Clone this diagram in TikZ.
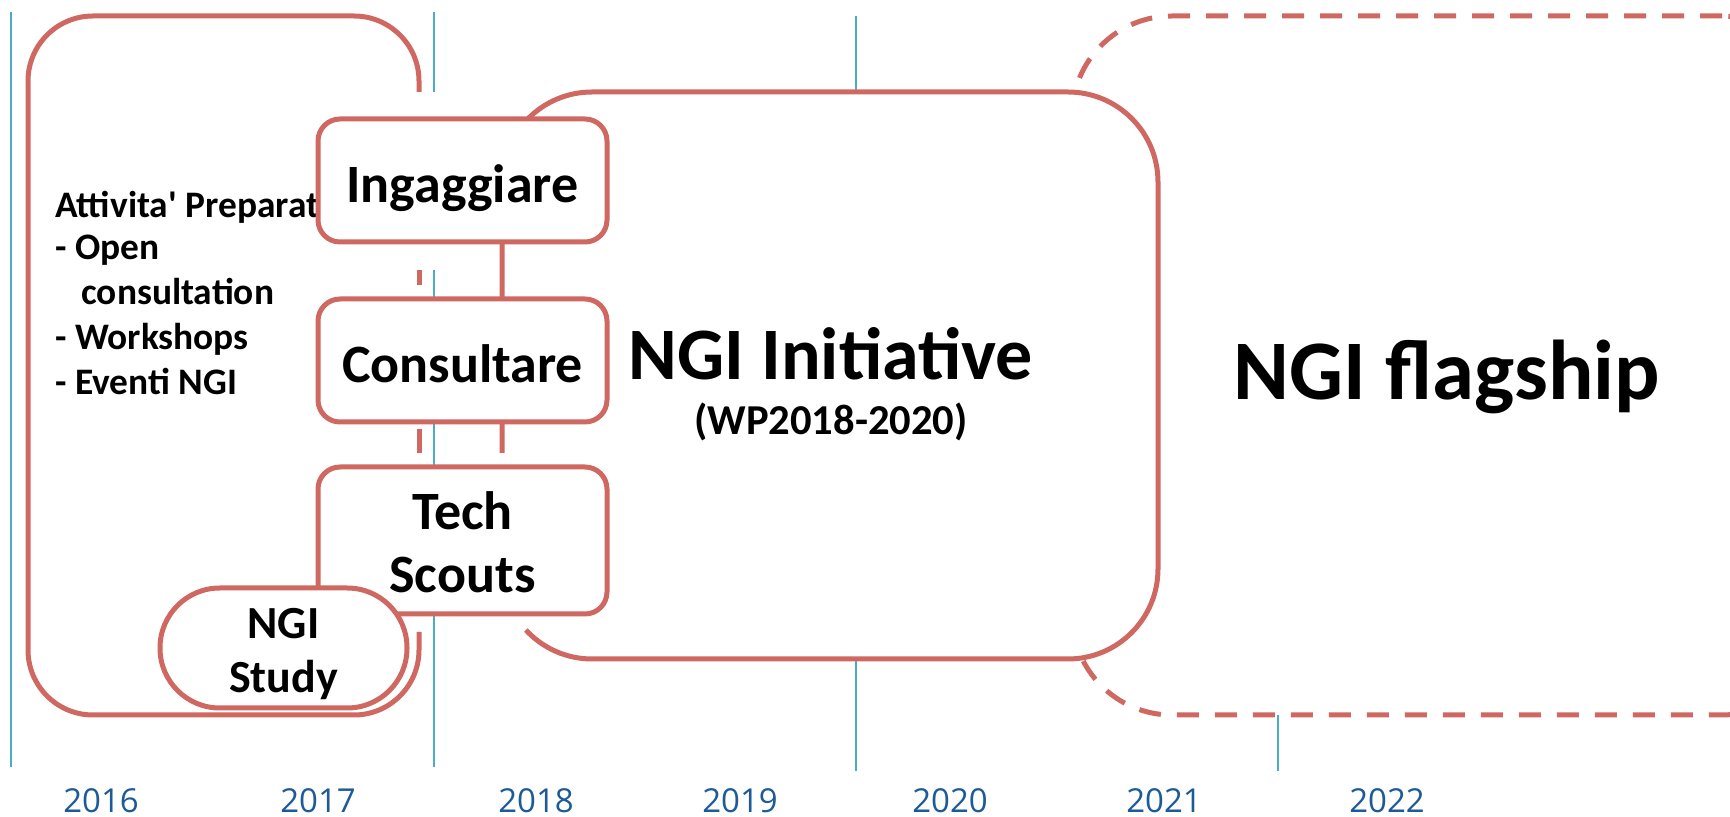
\documentclass[tikz,border=0pt]{standalone}
\usepackage{fontspec}
\setmainfont{Carlito}
\newfontfamily\yearfont{Open Sans}
\definecolor{boxred}{RGB}{208,104,98}
\definecolor{gridblue}{RGB}{75,172,198}
\definecolor{yearblue}{RGB}{28,90,152}
\begin{document}
\begin{tikzpicture}[x=0.5pt,y=-0.5pt,
  redline/.style={draw=boxred,line width=2.5pt},
  gridline/.style={draw=gridblue,line width=1pt},
  stagebox/.style={redline,fill=white,rounded corners=11pt,minimum width=144.5pt,inner sep=0pt,outer sep=0pt,align=center,font=\bfseries\fontsize{27pt}{31.5pt}\selectfont},
  yearlbl/.style={anchor=base,inner sep=0pt,text=yearblue,font=\yearfont\fontsize{16.5pt}{20pt}\selectfont},
  preptext/.style={anchor=base west,inner sep=0pt,font=\bfseries\fontsize{18.7pt}{22pt}\selectfont},
]
\useasboundingbox (0,0) rectangle (1730,817);
\clip (0,0) rectangle (1730,817);

% year grid lines
\draw[gridline] (11,12) -- (11,767);
\draw[gridline] (434,12) -- (434,92);
\draw[gridline] (434,270) -- (434,767);
\draw[gridline] (856,16) -- (856,771);
\draw[gridline] (1278,16) -- (1278,771);

% NGI flagship (dashed)
\node[redline,dash pattern=on 11pt off 8pt,fill=white,rounded corners=50pt,minimum width=375pt,minimum height=349.5pt,inner sep=0pt,text height=33.9pt,text depth=0pt,font=\bfseries\fontsize{42.4pt}{50pt}\selectfont] (flag) at (1447,365.5) {NGI flagship};

% NGI Initiative
\node[fill=white,rounded corners=45pt,minimum width=328pt,minimum height=283.5pt,inner sep=0pt] (init) at (830,375.5) {};
\draw[redline] (502,453) -- (502,182) arc[start angle=180,end angle=270,radius=90] -- (1068,92) arc[start angle=270,end angle=360,radius=90] -- (1158,569) arc[start angle=0,end angle=90,radius=90] -- (592,659) arc[start angle=90,end angle=137.3,radius=90];
\node[anchor=base,inner sep=0pt,font=\bfseries\fontsize{37pt}{44pt}\selectfont] (initT) at (831,380) {NGI Initiative};
\node[anchor=base,inner sep=0pt,font=\bfseries\fontsize{21.3pt}{25pt}\selectfont] (initS) at (831,435) {(WP2018-2020)};

% preparatory activities box
\draw[redline,rounded corners=32.5pt] (419,92) -- (419,16) -- (28,16) -- (28,715) -- (419,715) -- (419,632);
\draw[redline] (419,270) -- (419,285);
\draw[redline] (419,429) -- (419,453);
\node[preptext] (p1) at (55,218) {Attivita\textquotesingle{} Preparat};
\node[preptext] (p2) at (55,260) {- Open};
\node[preptext] (p3) at (81,305) {consultation};
\node[preptext] (p4) at (55,350) {- Workshops};
\node[preptext] (p5) at (55,395) {- Eventi NGI};

% stage boxes
\node[stagebox,minimum height=61.5pt,text height=21.6pt,text depth=0pt] (ing) at (462.5,180.5) {Ingaggiare};
\node[stagebox,minimum height=61.5pt,text height=21.6pt,text depth=0pt] (con) at (462.5,360.5) {Consultare};
\node[stagebox,minimum height=73.5pt,text height=52.5pt,text depth=0pt] (tech) at (462.5,540.5) {Tech\\Scouts};
\node[redline,fill=white,rounded corners=29.9pt,minimum width=123.5pt,minimum height=60pt,inner sep=0pt,align=center,font=\bfseries\fontsize{23pt}{27.5pt}\selectfont,text height=45pt,text depth=0pt] (study) at (283.5,648) {NGI\\Study};

% years
\node[yearlbl] (y2016) at (101,812) {2016};
\node[yearlbl] (y2017) at (318,812) {2017};
\node[yearlbl] (y2018) at (536,812) {2018};
\node[yearlbl] (y2019) at (740,812) {2019};
\node[yearlbl] (y2020) at (950,812) {2020};
\node[yearlbl] (y2021) at (1164,812) {2021};
\node[yearlbl] (y2022) at (1387,812) {2022};
\end{tikzpicture}
\end{document}
